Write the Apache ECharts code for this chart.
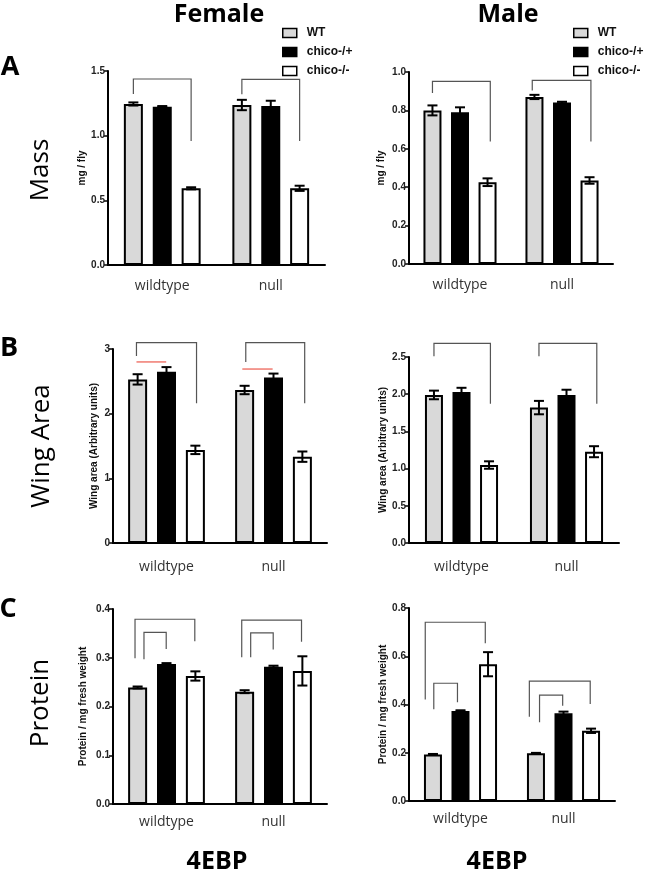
<!DOCTYPE html>
<html><head><meta charset="utf-8">
<script src="https://cdn.jsdelivr.net/npm/echarts@6/dist/echarts.min.js"></script>
<style>html,body{margin:0;padding:0;background:#fff}#c{width:657px;height:875px}</style>
</head><body><div id="c"></div>
<script>
const categories = ['wildtype', 'null'];
const genotypes = ['WT', 'chico-/+', 'chico-/-'];

// Mass (mg / fly): rows = genotype, columns = category
const massFemale = [[1.245, 1.237], [1.224, 1.23], [0.593, 0.593]];
const massFemaleErr = [[0.012, 0.04], [0.005, 0.04], [0.008, 0.02]];
const massFemaleTicks = ['0.0', '0.5', '1.0', '1.5'];
const massFemaleBrackets = [[0, 0, 2, 1.438, 1.322, 0.959], [1, 0, 2, 1.436, 1.32, 0.959]];

const massMale = [[0.80, 0.87], [0.79, 0.841], [0.426, 0.435]];
const massMaleErr = [[0.026, 0.011], [0.026, 0.004], [0.02, 0.017]];
const massMaleTicks = ['0.0', '0.2', '0.4', '0.6', '0.8', '1.0'];
const massMaleBrackets = [[0, 0, 2.1, 0.951, 0.89, 0.638], [1, -0.08, 2.05, 0.956, 0.904, 0.638]];

// Wing area (Arbitrary units)
const wingFemale = [[2.53, 2.366], [2.65, 2.56], [1.44, 1.335]];
const wingFemaleErr = [[0.08, 0.065], [0.07, 0.06], [0.065, 0.08]];
const wingFemaleTicks = ['0', '1', '2', '3'];
const wingFemaleBrackets = [[0, -0.04, 2.04, 3.10, 2.89, 2.16], [1, 0.04, 2.08, 3.10, 2.80, 2.16]];
const wingFemaleRed = [[0, -0.04, 0.99, 2.80], [1, -0.08, 0.97, 2.69]];

const wingMale = [[1.99, 1.82], [2.03, 1.99], [1.048, 1.227]];
const wingMaleErr = [[0.058, 0.09], [0.056, 0.07], [0.05, 0.074]];
const wingMaleTicks = ['0.0', '0.5', '1.0', '1.5', '2.0', '2.5'];
const wingMaleBrackets = [[0, 0, 2.05, 2.684, 2.51, 1.87], [1, 0, 2.1, 2.684, 2.51, 1.87]];

// Protein / mg fresh weight
const proteinFemale = [[0.239, 0.2304], [0.287, 0.2817], [0.2626, 0.273]];
const proteinFemaleErr = [[0.002, 0.003], [0.002, 0.002], [0.0095, 0.03]];
const proteinFemaleTicks = ['0.0', '0.1', '0.2', '0.3', '0.4'];
const proteinFemaleBrackets = [[0, -0.09, 1.98, 0.379, 0.299, 0.334], [0, 0.22, 0.99, 0.352, 0.297, 0.318],
  [1, -0.1, 1.97, 0.377, 0.301, 0.333], [1, 0.21, 0.99, 0.351, 0.301, 0.317]];

const proteinMale = [[0.193, 0.1975], [0.373, 0.3635], [0.567, 0.291]];
const proteinMaleErr = [[0.002, 0.002], [0.003, 0.007], [0.05, 0.009]];
const proteinMaleTicks = ['0.0', '0.2', '0.4', '0.6', '0.8'];
const proteinMaleBrackets = [[0, -0.28, 1.9, 0.741, 0.421, 0.654], [0, 0.03, 0.89, 0.488, 0.38, 0.409],
  [1, -0.24, 1.97, 0.497, 0.349, 0.402], [1, 0.13, 0.97, 0.439, 0.326, 0.395]];

const LAB = 'Liberation Sans, Arial, sans-serif';
const OS = '"Open Sans", sans-serif';
const fills = ['#d9d9d9', '#000000', '#ffffff'];

const panels = [
  {v: massFemale, e: massFemaleErr, t: massFemaleTicks, b: massFemaleBrackets, name: 'mg / fly',
   grid: {left: 108, top: 71, width: 217, height: 194}, bw: 19, gap: 0.52, nameGap: 20, lm: 14},
  {v: massMale, e: massMaleErr, t: massMaleTicks, b: massMaleBrackets, name: 'mg / fly',
   grid: {left: 409, top: 72, width: 204, height: 192}, bw: 18, gap: 0.53, nameGap: 23, lm: 14},
  {v: wingFemale, e: wingFemaleErr, t: wingFemaleTicks, b: wingFemaleBrackets, r: wingFemaleRed, name: 'Wing area (Arbitrary units)',
   grid: {left: 113, top: 349, width: 214, height: 194}, bw: 19, gap: 0.52, nameGap: 14, lm: 17},
  {v: wingMale, e: wingMaleErr, t: wingMaleTicks, b: wingMaleBrackets, name: 'Wing area (Arbitrary units)',
   grid: {left: 409, top: 357, width: 210, height: 186}, bw: 18, gap: 0.53, nameGap: 20, lm: 17},
  {v: proteinFemale, e: proteinFemaleErr, t: proteinFemaleTicks, b: proteinFemaleBrackets, name: 'Protein / mg fresh weight',
   grid: {left: 113, top: 609, width: 214, height: 195}, bw: 19, gap: 0.52, nameGap: 25, lm: 11},
  {v: proteinMale, e: proteinMaleErr, t: proteinMaleTicks, b: proteinMaleBrackets, name: 'Protein / mg fresh weight',
   grid: {left: 409, top: 608, width: 206, height: 193}, bw: 18, gap: 0.53, nameGap: 21, lm: 11}
];

const grids = [], xAxes = [], yAxes = [], series = [];

panels.forEach((p, i) => {
  grids.push(Object.assign({containLabel: false, outerBoundsMode: 'none'}, p.grid));
  const tv = p.t.map(Number);
  const dec = (p.t[1].split('.')[1] || '').length;
  xAxes.push({
    type: 'category', gridIndex: i, data: categories,
    axisLine: {lineStyle: {color: '#000', width: 2}},
    axisTick: {alignWithLabel: true, length: 4, lineStyle: {color: '#000', width: 1.5}},
    axisLabel: {fontFamily: OS, fontSize: 14, color: '#333', margin: p.lm}
  });
  yAxes.push({
    type: 'value', gridIndex: i, min: tv[0], max: tv[tv.length - 1], interval: tv[1] - tv[0],
    name: p.name, nameLocation: 'middle', nameGap: p.nameGap,
    nameTextStyle: {fontFamily: LAB, fontWeight: 'bold', fontSize: 10, color: '#111'},
    splitLine: {show: false},
    axisLine: {show: true, lineStyle: {color: '#000', width: 2}},
    axisTick: {show: true, length: 4, lineStyle: {color: '#000', width: 1.5}},
    axisLabel: {fontFamily: LAB, fontWeight: 'bold', fontSize: 10, color: '#222', margin: 3,
      formatter: val => val.toFixed(dec)}
  });
  const step = p.bw * (1 + p.gap);
  genotypes.forEach((g, k) => {
    series.push({
      type: 'bar', name: g, xAxisIndex: i, yAxisIndex: i, data: p.v[k],
      barWidth: p.bw, barGap: Math.round(p.gap * 100) + '%',
      itemStyle: {color: fills[k], borderColor: '#000', borderWidth: 2},
      emphasis: {disabled: true}
    });
  });
  const errData = [];
  genotypes.forEach((g, k) => categories.forEach((c, ci) => errData.push([ci, k, p.v[k][ci], p.e[k][ci]])));
  series.push({
    type: 'custom', xAxisIndex: i, yAxisIndex: i, data: errData, encode: {x: 0, y: 2}, z: 5,
    renderItem: (params, api) => {
      const cat = api.value(0), slot = api.value(1), v = api.value(2), e = api.value(3);
      const x = api.coord([cat, v])[0] + (slot - 1) * step;
      const yT = api.coord([cat, v + e])[1], yB = api.coord([cat, v - e])[1];
      const st = {stroke: '#000', lineWidth: 2};
      const cap = 5;
      return {type: 'group', children: [
        {type: 'line', shape: {x1: x, y1: yT, x2: x, y2: yB}, style: st},
        {type: 'line', shape: {x1: x - cap, y1: yT, x2: x + cap, y2: yT}, style: st},
        {type: 'line', shape: {x1: x - cap, y1: yB, x2: x + cap, y2: yB}, style: st}
      ]};
    }
  });
  series.push({
    type: 'custom', xAxisIndex: i, yAxisIndex: i, data: p.b, encode: {x: 0, y: 3}, z: 5,
    renderItem: (params, api) => {
      const cat = api.value(0);
      const cx = api.coord([cat, 0])[0];
      const x1 = cx + (api.value(1) - 1) * step, x2 = cx + (api.value(2) - 1) * step;
      const yT = api.coord([cat, api.value(3)])[1];
      const yL = api.coord([cat, api.value(4)])[1];
      const yR = api.coord([cat, api.value(5)])[1];
      return {type: 'polyline', shape: {points: [[x1, yL], [x1, yT], [x2, yT], [x2, yR]]},
        style: {stroke: '#555', lineWidth: 1.2, fill: null}};
    }
  });
  if (p.r) {
    series.push({
      type: 'custom', xAxisIndex: i, yAxisIndex: i, data: p.r, encode: {x: 0, y: 3}, z: 5,
      renderItem: (params, api) => {
        const cat = api.value(0);
        const cx = api.coord([cat, 0])[0];
        const y = api.coord([cat, api.value(3)])[1];
        return {type: 'line', shape: {x1: cx + (api.value(1) - 1) * step, y1: y, x2: cx + (api.value(2) - 1) * step, y2: y},
          style: {stroke: '#f07a70', lineWidth: 1.5}};
      }
    });
  }
});

const legendBase = {
  orient: 'vertical', data: genotypes, icon: 'rect', itemWidth: 14, itemHeight: 9, itemGap: 5,
  selectedMode: false,
  itemStyle: {borderColor: '#000', borderWidth: 1.5},
  textStyle: {fontFamily: LAB, fontWeight: 'bold', fontSize: 12, color: '#111', padding: [0, 0, 0, 5], lineHeight: 14}
};

function txt(text, x, y, font, rot) {
  return {type: 'text', x: x, y: y, rotation: rot || 0,
    style: {text: text, font: font, fill: '#000', textAlign: 'center', textVerticalAlign: 'middle'}};
}

const option = {
  animation: false,
  grid: grids, xAxis: xAxes, yAxis: yAxes, series: series,
  legend: [
    Object.assign({left: 277, top: 21}, legendBase),
    Object.assign({left: 568, top: 21}, legendBase)
  ],
  graphic: [
    txt('Female', 219, 15, 'bold 25px "Open Sans"'),
    txt('Male', 508, 15, 'bold 25px "Open Sans"'),
    txt('A', 10, 67, 'bold 27px "Open Sans"'),
    txt('B', 9, 348, 'bold 27px "Open Sans"'),
    txt('C', 8, 609, 'bold 27px "Open Sans"'),
    txt('Mass', 41, 170, '26px "Open Sans"', Math.PI / 2),
    txt('Wing Area', 42, 446, '26px "Open Sans"', Math.PI / 2),
    txt('Protein', 41, 703, '26px "Open Sans"', Math.PI / 2),
    txt('4EBP', 217, 862, 'bold 25px "Open Sans"'),
    txt('4EBP', 497, 862, 'bold 25px "Open Sans"')
  ]
};

const chart = echarts.init(document.getElementById('c'), null, {renderer: 'canvas'});
chart.setOption(option);
</script>
</body></html>
